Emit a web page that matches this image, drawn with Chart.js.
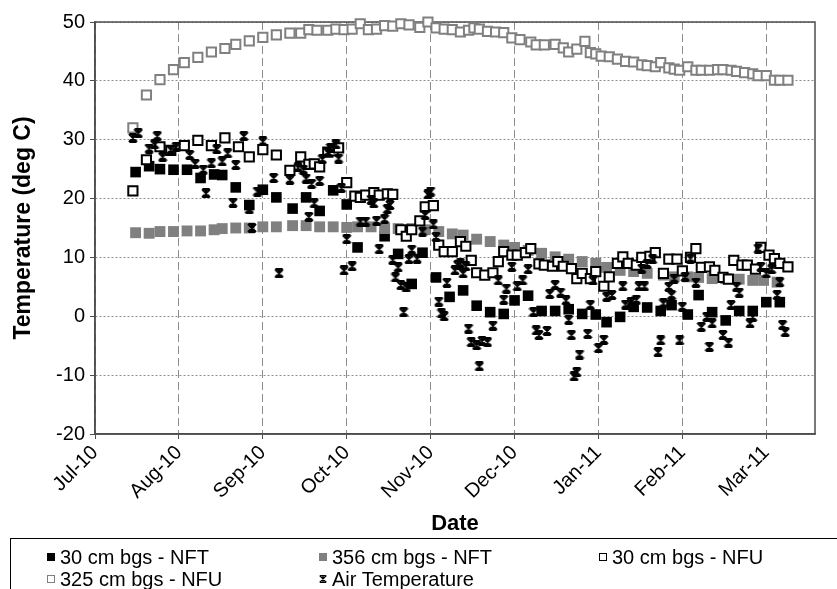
<!DOCTYPE html>
<html lang="en">
<head>
    <meta charset="UTF-8">
    <meta name="viewport" content="width=device-width, initial-scale=1.0">
    <title>Temperature</title>
    <script src="https://cdn.jsdelivr.net/npm/chart.js"></script>
    <style>
        body {
            margin: 0;
            background: #fff;
            font-family: 'Liberation Sans', Arial, sans-serif;
        }

        .wrap {
            position: relative;
            width: 837px;
            height: 589px;
            overflow: hidden;
        }

        .legend {
            position: absolute;
            left: 10px;
            top: 538px;
            width: 860px;
            height: 70px;
            border: 1px solid #000;
            box-sizing: border-box;
        }

        .legend-item {
            position: absolute;
            display: flex;
            align-items: center;
            font-size: 20px;
            line-height: 22px;
            color: #000;
            white-space: nowrap;
        }

        .legend-item canvas {
            margin-right: 4px;
        }
    </style>
</head>
<body>
    <div class="wrap">
        <canvas id="tempChart"></canvas>
        <div class="legend" id="legend"></div>
    </div>

    <script>
        // x values are days counted from 1 Jul 2010; the date axis steps 31 days per label
        const MAJOR_UNIT = 31;
        const xTickLabels = ['Jul-10', 'Aug-10', 'Sep-10', 'Oct-10', 'Nov-10', 'Dec-10', 'Jan-11', 'Feb-11', 'Mar-11'];

        // 30 cm bgs - NFT
        const nft30Days = [15, 20, 24, 29, 34, 39, 44, 47, 52, 57, 62, 67, 73, 78, 83, 88, 93, 97, 107, 112,
            117, 121, 126, 131, 136, 141, 146, 151, 155, 160, 165, 170, 175, 180, 185, 189, 194, 199, 204, 209,
            213, 219, 223, 228, 233, 238, 243, 248, 253];
        const nft30Temps = [24.5, 25.5, 25.0, 24.9, 24.9, 23.5, 24.1, 24.0, 21.9, 18.9, 21.5, 20.2, 18.3, 20.2, 17.9, 21.4, 19.0, 11.7, 13.6, 10.6,
            5.5, 10.8, 6.6, 3.3, 4.4, 1.8, 0.7, 0.4, 2.7, 3.5, 0.9, 0.9, 1.2, 0.4, 0.3, -1.0, -0.1, 1.6, 1.5, 0.9,
            1.9, 0.3, 3.6, 0.7, -0.7, 0.9, 0.9, 2.4, 2.4];

        // 356 cm bgs - NFT
        const nft356Days = [15, 20, 24, 29, 34, 39, 44, 47, 52, 57, 62, 67, 73, 78, 83, 88, 93, 97, 102, 107,
            112, 117, 122, 127, 132, 136, 141, 146, 151, 155, 160, 165, 170, 175, 180, 185, 189, 194, 199, 204,
            210, 214, 219, 223, 228, 233, 238, 243, 247, 252];
        const nft356Temps = [14.2, 14.1, 14.4, 14.4, 14.5, 14.5, 14.7, 14.9, 15.0, 15.0, 15.2, 15.2, 15.4, 15.4, 15.2, 15.2, 15.1, 15.2, 15.2, 14.9,
            14.9, 14.9, 14.7, 14.4, 14.0, 13.8, 13.1, 12.7, 12.1, 11.7, 11.2, 10.7, 10.1, 9.7, 9.3, 9.0, 8.3, 7.8, 7.6, 7.3,
            7.0, 6.7, 6.7, 6.6, 6.4, 6.4, 6.3, 6.1, 6.1, 5.8];

        // 30 cm bgs - NFU
        const nfu30Days = [14, 19, 24, 28, 33, 38, 43, 48, 53, 57, 62, 67, 72, 76, 79, 81, 83, 86, 88, 90,
            93, 96, 98, 100, 103, 105, 108, 110, 113, 115, 117, 120, 122, 125, 127, 129, 132, 135, 137, 139,
            141, 144, 147, 149, 151, 154, 156, 159, 161, 164, 166, 169, 171, 173, 176, 178, 180, 183, 185, 188,
            190, 193, 195, 197, 200, 202, 205, 207, 210, 212, 215, 217, 220, 222, 224, 227, 229, 232, 234, 236,
            239, 241, 244, 246, 249, 251, 253, 256];
        const nfu30Temps = [21.3, 26.6, 28.8, 28.2, 29.0, 29.9, 29.0, 30.3, 28.8, 27.1, 28.3, 27.4, 24.8, 27.1, 25.8, 25.9, 25.4, 27.9, 28.1, 28.6,
            22.7, 20.4, 20.2, 20.6, 21.0, 20.6, 20.8, 20.7, 14.7, 13.6, 14.7, 16.2, 18.6, 18.8, 12.1, 11.0, 11.0, 12.7, 11.9, 9.5,
            7.4, 7.0, 7.4, 9.3, 11.0, 10.4, 10.4, 10.8, 11.5, 8.9, 8.7, 8.5, 9.3, 8.5, 8.1, 6.4, 7.3, 6.4, 7.6, 5.1,
            6.7, 9.0, 10.1, 9.0, 8.7, 10.0, 10.2, 10.8, 7.3, 9.7, 9.7, 7.7, 10.0, 11.5, 8.3, 8.4, 7.8, 6.6, 6.3, 9.5,
            8.7, 8.7, 8.0, 11.7, 10.4, 9.8, 9.0, 8.4];

        // 325 cm bgs - NFU
        const nfu325Days = [14, 19, 24, 29, 33, 38, 43, 48, 52, 57, 62, 67, 72, 76, 79, 82, 86, 89, 92, 95,
            98, 101, 104, 107, 110, 113, 116, 120, 123, 126, 129, 132, 135, 138, 140, 142, 145, 148, 151, 154,
            157, 161, 163, 166, 170, 173, 175, 178, 181, 183, 185, 187, 190, 193, 196, 199, 202, 204, 207, 209,
            212, 214, 216, 219, 222, 224, 227, 230, 232, 235, 237, 240, 243, 245, 248, 251, 253, 256];
        const nfu325Temps = [32.0, 37.6, 40.2, 41.9, 43.1, 44.0, 44.9, 45.5, 46.2, 46.8, 47.4, 47.8, 48.1, 48.1, 48.7, 48.6, 48.6, 48.8, 48.7, 48.8,
            49.7, 48.7, 48.8, 49.4, 49.3, 49.7, 49.5, 49.1, 50.0, 49.0, 48.8, 48.7, 48.3, 48.6, 49.0, 48.8, 48.4, 48.3, 48.2, 47.3,
            47.0, 46.6, 46.1, 46.1, 46.2, 45.6, 44.9, 45.4, 46.7, 44.8, 44.6, 44.2, 44.1, 43.7, 43.3, 43.2, 42.7, 42.6, 42.4, 43.1,
            42.2, 42.0, 41.8, 42.4, 41.8, 41.8, 41.8, 41.9, 41.9, 41.8, 41.6, 41.4, 41.2, 40.9, 40.9, 40.1, 40.1, 40.1];

        // Air Temperature
        const airDays = [14, 16, 20, 22, 23, 25, 28, 30, 35, 37, 40, 41, 43, 45, 47, 49, 51, 52, 55, 57,
            58, 60, 62, 66, 68, 72, 75, 77, 78, 79, 80, 81, 83, 84, 86, 87, 89, 90, 91, 92,
            93, 95, 98, 100, 102, 103, 104, 105, 107, 108, 109, 110, 111, 112, 113, 114, 115, 116, 117, 119,
            121, 122, 123, 124, 125, 126, 127, 128, 129, 130, 133, 134, 135, 136, 137, 138, 139, 141, 142, 143,
            145, 147, 149, 151, 152, 154, 156, 158, 160, 162, 163, 164, 167, 168, 170, 172, 174, 175, 176, 177,
            178, 179, 182, 183, 184, 186, 188, 189, 191, 195, 196, 198, 200, 201, 202, 203, 204, 206, 208, 209,
            210, 212, 213, 214, 216, 217, 218, 220, 222, 224, 226, 227, 228, 232, 234, 235, 237, 238, 242, 243,
            245, 246, 248, 250, 252, 253, 254, 255];
        const airTemps = [30.3, 31.1, 28.5, 29.2, 30.6, 27.1, 28.3, 28.8, 27.4, 25.9, 24.9, 20.9, 26.0, 28.4, 26.3, 27.7, 19.3, 25.7, 30.6, 18.2,
            15.0, 21.2, 29.7, 23.5, 7.3, 23.2, 25.3, 24.9, 23.4, 16.9, 22.5, 19.2, 23.0, 26.7, 27.9, 28.6, 29.2, 26.8, 21.8, 7.8,
            13.1, 8.5, 16.1, 16.1, 19.8, 19.2, 16.2, 11.4, 16.5, 18.2, 18.9, 9.6, 6.6, 8.3, 5.3, 0.7, 4.9, 9.7, 11.3, 9.8,
            14.4, 17.2, 20.7, 21.2, 15.6, 13.5, 2.5, 0.5, 0.0, 5.7, 7.8, 8.7, 9.0, 7.3, 8.5, -2.1, -4.4, -4.9, -8.5, -4.2,
            -4.4, -1.6, 6.1, 2.8, 4.7, 8.4, 5.1, 6.1, 8.0, 0.7, -2.4, -3.2, -2.5, 3.8, 5.3, 4.0, 2.7, -0.6, -3.2, -10.2,
            -9.5, -6.5, -3.0, 1.9, 6.1, -5.4, -4.0, 3.3, 3.6, 5.1, 2.0, 2.4, 2.8, 5.1, 8.1, 5.1, 8.9, 9.7, -6.1, -4.1,
            2.2, 5.0, 3.6, 6.4, -4.1, 1.6, 6.7, 9.8, 5.7, -1.8, -0.1, -5.2, -1.2, -3.2, -4.5, 1.9, 5.0, 4.0, -1.2, -0.1,
            11.5, 8.4, 7.3, 8.0, 3.6, 5.8, -1.5, -2.7];

        const AXIS_COLOR = '#4d4d4d';
        const GRID_COLOR = '#8c8c8c';

        Chart.defaults.font.family = "'Liberation Sans', Arial, sans-serif";
        Chart.defaults.color = '#000';

        function toPoints(days, temps) {
            return days.map((d, i) => ({ x: d, y: temps[i] }));
        }

        // Excel style star marker: X with a vertical stroke and short caps
        function makeStar(size, lw) {
            const c = document.createElement('canvas');
            c.width = size;
            c.height = size;
            const g = c.getContext('2d');
            g.strokeStyle = '#000';
            g.lineWidth = lw;
            const p = lw / 2, q = size - lw / 2, m = size / 2;
            g.beginPath();
            g.moveTo(p, p); g.lineTo(q, q);
            g.moveTo(q, p); g.lineTo(p, q);
            g.moveTo(m, 0); g.lineTo(m, size);
            g.moveTo(size * 0.15, p); g.lineTo(size * 0.85, p);
            g.moveTo(size * 0.15, q); g.lineTo(size * 0.85, q);
            g.stroke();
            return c;
        }

        const starMarker = makeStar(10, 2);

        // full box round the plot area
        const plotFrame = {
            id: 'plotFrame',
            beforeDatasetsDraw(chart) {
                const { ctx, chartArea: a } = chart;
                ctx.save();
                ctx.strokeStyle = AXIS_COLOR;
                ctx.lineWidth = 1.5;
                ctx.strokeRect(a.left, a.top, a.right - a.left, a.bottom - a.top);
                ctx.restore();
            }
        };

        const series = [
            { label: '30 cm bgs - NFT', days: nft30Days, temps: nft30Temps, fill: '#000', stroke: '#000', radius: 7.5, width: 0, order: 4 },
            { label: '356 cm bgs - NFT', days: nft356Days, temps: nft356Temps, fill: '#808080', stroke: '#808080', radius: 7.7, width: 0, order: 3 },
            { label: '30 cm bgs - NFU', days: nfu30Days, temps: nfu30Temps, fill: '#fff', stroke: '#000', radius: 6.5, width: 2, order: 2 },
            { label: '325 cm bgs - NFU', days: nfu325Days, temps: nfu325Temps, fill: '#fff', stroke: '#808080', radius: 6.5, width: 2, order: 1 },
            { label: 'Air Temperature', days: airDays, temps: airTemps, star: true, order: 0 }
        ];

        const datasets = series.map(s => ({
            label: s.label,
            data: toPoints(s.days, s.temps),
            pointStyle: s.star ? starMarker : 'rect',
            pointRadius: s.star ? 5 : s.radius,
            pointHoverRadius: s.star ? 5 : s.radius,
            backgroundColor: s.star ? '#000' : s.fill,
            borderColor: s.star ? '#000' : s.stroke,
            borderWidth: s.star ? 0 : s.width,
            order: s.order,
            clip: false
        }));

        const ctx = document.getElementById('tempChart').getContext('2d');
        new Chart(ctx, {
            type: 'scatter',
            data: { datasets: datasets },
            options: {
                responsive: true,
                maintainAspectRatio: false,
                animation: false,
                layout: { padding: { top: 22, right: 22, bottom: 51, left: 0 } },
                plugins: {
                    legend: { display: false },
                    tooltip: { enabled: false }
                },
                scales: {
                    x: {
                        type: 'linear',
                        min: 0,
                        max: 266,
                        afterBuildTicks: scale => {
                            scale.ticks = xTickLabels.map((_, i) => ({ value: i * MAJOR_UNIT }));
                        },
                        afterFit: scale => { scale.height = 104; },
                        ticks: {
                            callback: (value, index) => xTickLabels[index],
                            autoSkip: false,
                            maxRotation: 45,
                            minRotation: 45,
                            padding: 2,
                            font: { size: 20 }
                        },
                        grid: { color: GRID_COLOR, tickColor: AXIS_COLOR, tickLength: 5, tickBorderDash: [] },
                        border: { color: AXIS_COLOR, width: 1.5, dash: [8, 4] },
                        title: {
                            display: true,
                            text: 'Date',
                            font: { size: 22, weight: 'bold' },
                            padding: { top: 0, bottom: 1 }
                        }
                    },
                    y: {
                        min: -20,
                        max: 50,
                        afterFit: scale => { scale.width = 95; },
                        ticks: { stepSize: 10, padding: 5, font: { size: 20 } },
                        grid: { color: GRID_COLOR, tickColor: AXIS_COLOR, tickLength: 5, tickBorderDash: [] },
                        border: { color: AXIS_COLOR, width: 1.5, dash: [2, 2] },
                        title: {
                            display: true,
                            text: 'Temperature (deg C)',
                            font: { size: 23, weight: 'bold' },
                            padding: { top: 10, bottom: 0 }
                        }
                    }
                }
            },
            plugins: [plotFrame]
        });

        // legend below the chart, laid out in columns like the original
        function legendMarker(s) {
            const c = document.createElement('canvas');
            c.width = 10;
            c.height = 10;
            const g = c.getContext('2d');
            if (s.star) {
                g.drawImage(makeStar(8, 1.3), 1, 1);
            } else if (s.width) {
                g.fillStyle = s.fill;
                g.fillRect(1, 1, 8, 8);
                g.strokeStyle = s.stroke;
                g.lineWidth = 1;
                g.strokeRect(1.5, 1.5, 7, 7);
            } else {
                g.fillStyle = s.fill;
                g.fillRect(1, 1, 8, 8);
            }
            return c;
        }

        const legendCols = [35, 307, 587];
        const legendRows = [7, 29];
        const legendEl = document.getElementById('legend');
        series.forEach((s, i) => {
            const item = document.createElement('div');
            item.className = 'legend-item';
            item.style.left = legendCols[i % 3] + 'px';
            item.style.top = legendRows[Math.floor(i / 3)] + 'px';
            item.appendChild(legendMarker(s));
            const text = document.createElement('span');
            text.textContent = s.label;
            item.appendChild(text);
            legendEl.appendChild(item);
        });
    </script>
</body>
</html>
